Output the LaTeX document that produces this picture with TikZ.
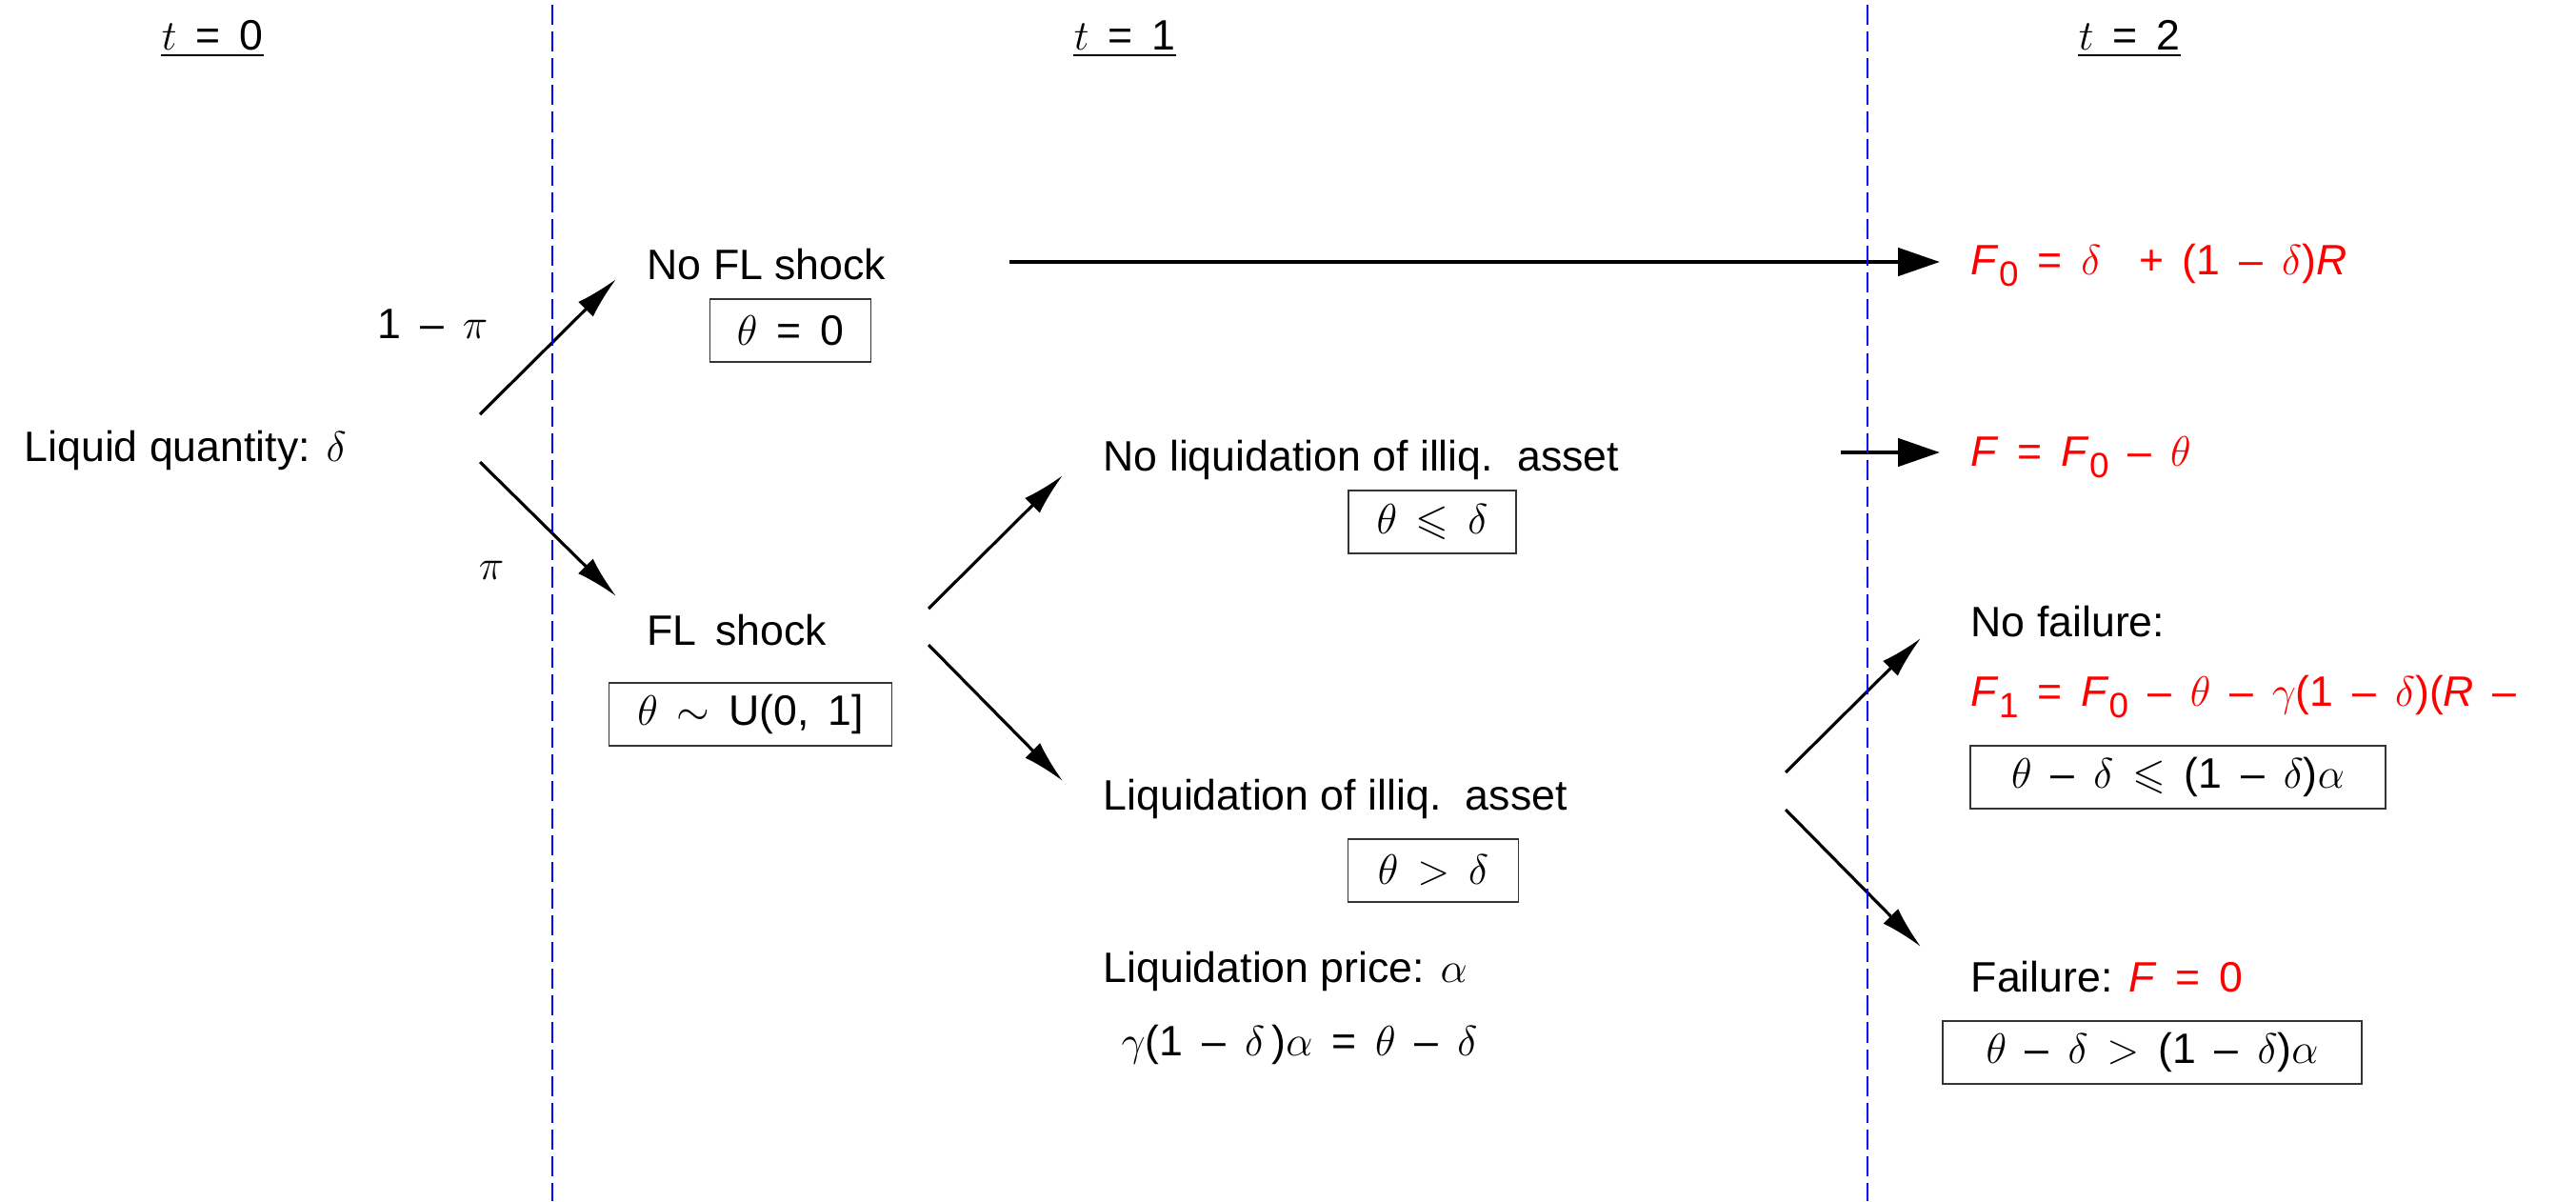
\RequirePackage{fix-cm}
\documentclass[tikz,border=0pt]{standalone}
\usepackage{amsmath,amssymb}
\usepackage{fontspec}
\setmainfont{Liberation Sans}
\newfontfamily\eqfont{Liberation Sans}[WordSpace=1.6]
\usetikzlibrary{arrows.meta}

\newcommand{\Fv}[1]{\textit{F}\raisebox{-0.55ex}{\fontsize{10.5}{12}\selectfont #1}}

\begin{document}
\begin{tikzpicture}[
  font=\fontsize{12.7}{15}\selectfont,
  every node/.style={inner sep=0pt},
  formula/.style={font=\fontsize{12.7}{15}\selectfont\eqfont},
  cond/.style={formula, draw=black!80, line width=0.5pt, minimum height=0.66cm},
  res/.style={formula, text=red},
  branch/.style={-{Latex[length=4.5mm,width=2.2mm]}, line width=0.9pt},
  pass/.style={-{Triangle[length=4.4mm,width=2.9mm]}, line width=1.3pt},
  period/.style={blue, line width=0.5pt, dash pattern=on 6pt off 2pt}]
\useasboundingbox (0,0) rectangle (27.05,-12.61);
% periods
\node[formula, anchor=base] (t0) at (2.23,-0.52) {$t$ = 0};
\node[formula, anchor=base] (t1) at (11.81,-0.52) {$t$ = 1};
\node[formula, anchor=base] (t2) at (22.36,-0.52) {$t$ = 2};
\foreach \t in {t0,t1,t2}
  \draw[line width=0.8pt] ([yshift=-0.06cm]\t.base west) -- ([yshift=-0.06cm]\t.base east);
% t = 0
\node[anchor=base west] (liq) at (0.25,-4.84) {Liquid quantity: $\delta$};
\node[formula, anchor=base east] (p1) at (5.13,-3.55) {1 – $\pi$};
\node[anchor=base] (p2) at (5.16,-6.08) {$\pi$};
% t = 1
\node[anchor=base west] (nofl) at (6.79,-2.93) {No FL shock};
\node[cond, minimum width=1.69cm] (c0) at (8.30,-3.47) {$\theta$ = 0};
\node[formula, anchor=base west] (fl) at (6.79,-6.77) {FL shock};
\node[cond, minimum width=2.97cm] (cU) at (7.88,-7.50) {$\theta$ $\sim$ U(0, 1]};
\node[anchor=base west] (noliq) at (11.58,-4.94) {No liquidation of illiq.\hspace{0.2em} asset};
\node[cond, minimum width=1.76cm] (cle) at (15.04,-5.48) {$\theta$ $\leqslant$ $\delta$};
\node[anchor=base west] (liqd) at (11.58,-8.50) {Liquidation of illiq.\hspace{0.2em} asset};
\node[cond, minimum width=1.79cm] (cgt) at (15.05,-9.14) {$\theta$ $>$ $\delta$};
\node[anchor=base west] (price) at (11.58,-10.31) {Liquidation price: $\alpha$};
\node[formula, anchor=base west] (eq) at (11.77,-11.08) {$\gamma$(1 – $\delta$\,)$\alpha$ = $\theta$ – $\delta$};
% t = 2
\node[res, anchor=base west] (F0) at (20.69,-2.88) {\Fv{0} = $\delta$ \ + (1 – $\delta$)\textit{R}};
\node[res, anchor=base west] (Fr) at (20.69,-4.89) {\textit{F} = \Fv{0} – $\theta$};
\node[anchor=base west] (nofail) at (20.69,-6.68) {No failure:};
\node[res, anchor=base west] (F1) at (20.69,-7.41) {\Fv{1} = \Fv{0} – $\theta$ – $\gamma$(1 – $\delta$)(\textit{R} –};
\node[cond, minimum width=4.36cm] (cnf) at (22.87,-8.16) {$\theta$ – $\delta$ $\leqslant$ (1 – $\delta$)$\alpha$};
\node[anchor=base west] (fail) at (20.69,-10.41) {Failure: {\eqfont\color{red}\textit{F} = 0}};
\node[cond, minimum width=4.40cm] (cf) at (22.60,-11.05) {$\theta$ – $\delta$ $>$ (1 – $\delta$)$\alpha$};
% arrow ends
\coordinate (liq-a) at (5.04,-4.35);
\coordinate (liq-b) at (5.04,-4.85);
\coordinate (nofl-in) at (6.47,-2.93);
\coordinate (fl-in) at (6.47,-6.26);
\coordinate (fl-a) at (9.75,-6.39);
\coordinate (fl-b) at (9.75,-6.77);
\coordinate (noliq-in) at (11.16,-4.99);
\coordinate (liqd-in) at (11.16,-8.20);
\coordinate (nofl-out) at (10.60,-2.75);
\coordinate (F0-in) at (20.37,-2.75);
\coordinate (noliq-out) at (19.33,-4.75);
\coordinate (Fr-in) at (20.37,-4.75);
\coordinate (liqd-a) at (18.75,-8.11);
\coordinate (liqd-b) at (18.75,-8.50);
\coordinate (nofail-in) at (20.17,-6.70);
\coordinate (fail-in) at (20.17,-9.94);
\draw[branch] (liq-a) -- (nofl-in);
\draw[branch] (liq-b) -- (fl-in);
\draw[branch] (fl-a) -- (noliq-in);
\draw[branch] (fl-b) -- (liqd-in);
\draw[branch] (liqd-a) -- (nofail-in);
\draw[branch] (liqd-b) -- (fail-in);
\draw[pass] (nofl-out) -- (F0-in);
\draw[pass] (noliq-out) -- (Fr-in);
% time lines
\draw[period] (5.80,-0.05) -- (5.80,-12.61);
\draw[period] (19.61,-0.05) -- (19.61,-12.61);
\end{tikzpicture}
\end{document}
